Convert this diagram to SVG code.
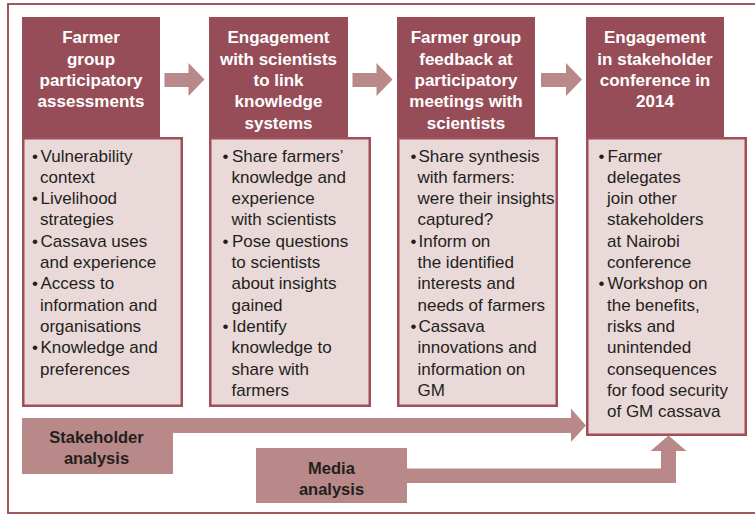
<svg xmlns="http://www.w3.org/2000/svg" width="755" height="515" viewBox="0 0 755 515">
<style>
.frame{fill:none;stroke:#a4545f;stroke-width:2}
.hdr{fill:#964d58}
.box{fill:#e9d9d8;stroke:#a04e59;stroke-width:2.5}
.arr{fill:#b98888}
.ht{font-family:"Liberation Sans",Arial,sans-serif;font-weight:bold;font-size:17px;fill:#ffffff;text-anchor:middle}
.bt{font-family:"Liberation Sans",Arial,sans-serif;font-size:17px;fill:#231f20}
.lt{font-family:"Liberation Sans",Arial,sans-serif;font-weight:bold;font-size:16.5px;fill:#231f20;text-anchor:middle}
</style>
<rect class="frame" x="8" y="4" width="800" height="509"/>

<g id="connectors">
<polygon class="arr" points="164.5,73 188.5,73 188.5,63 204.5,79.5 188.5,96 188.5,87 164.5,87"/>
<polygon class="arr" points="352.5,73 376.5,73 376.5,63 392.5,79.5 376.5,96 376.5,87 352.5,87"/>
<polygon class="arr" points="541,73 566,73 566,63 582,79.5 566,96 566,87 541,87"/>
</g>

<g id="node1">
<rect class="box" x="23.25" y="138.25" width="158.5" height="267.5"/>
<rect class="hdr" x="22" y="17" width="138" height="120"/>
<text class="ht"><tspan x="91" y="43.3">Farmer</tspan><tspan x="91" y="64.6">group</tspan><tspan x="91" y="85.9">participatory</tspan><tspan x="91" y="107.2">assessments</tspan></text>
<text class="bt">
<tspan x="32" y="161.5">•</tspan><tspan x="40.5">Vulnerability</tspan>
<tspan x="40" y="182.8">context</tspan>
<tspan x="32" y="204.1">•</tspan><tspan x="40.5">Livelihood</tspan>
<tspan x="40" y="225.4">strategies</tspan>
<tspan x="32" y="246.7">•</tspan><tspan x="40.5">Cassava uses</tspan>
<tspan x="40" y="268">and experience</tspan>
<tspan x="32" y="289.3">•</tspan><tspan x="40.5">Access to</tspan>
<tspan x="40" y="310.6">information and</tspan>
<tspan x="40" y="331.9">organisations</tspan>
<tspan x="32" y="353.2">•</tspan><tspan x="40.5">Knowledge and</tspan>
<tspan x="40" y="374.5">preferences</tspan>
</text>
</g>

<g id="node2">
<rect class="box" x="210.25" y="138.25" width="159.5" height="267.5"/>
<rect class="hdr" x="209" y="17" width="139" height="120"/>
<text class="ht"><tspan x="278.5" y="43.3">Engagement</tspan><tspan x="278.5" y="64.6">with scientists</tspan><tspan x="278.5" y="85.9">to link</tspan><tspan x="278.5" y="107.2">knowledge</tspan><tspan x="278.5" y="128.5">systems</tspan></text>
<text class="bt">
<tspan x="222.5" y="161.5">•</tspan><tspan x="232">Share farmers’</tspan>
<tspan x="231.5" y="182.8">knowledge and</tspan>
<tspan x="231.5" y="204.1">experience</tspan>
<tspan x="231.5" y="225.4">with scientists</tspan>
<tspan x="222.5" y="246.7">•</tspan><tspan x="232">Pose questions</tspan>
<tspan x="231.5" y="268">to scientists</tspan>
<tspan x="231.5" y="289.3">about insights</tspan>
<tspan x="231.5" y="310.6">gained</tspan>
<tspan x="222.5" y="331.9">•</tspan><tspan x="232">Identify</tspan>
<tspan x="231.5" y="353.2">knowledge to</tspan>
<tspan x="231.5" y="374.5">share with</tspan>
<tspan x="231.5" y="395.8">farmers</tspan>
</text>
</g>

<g id="node3">
<rect class="box" x="398.25" y="138.25" width="158.5" height="267.5"/>
<rect class="hdr" x="397" y="17" width="138" height="120"/>
<text class="ht"><tspan x="466" y="43.3">Farmer group</tspan><tspan x="466" y="64.6">feedback at</tspan><tspan x="466" y="85.9">participatory</tspan><tspan x="466" y="107.2">meetings with</tspan><tspan x="466" y="128.5">scientists</tspan></text>
<text class="bt">
<tspan x="410.5" y="161.5">•</tspan><tspan x="418.5">Share synthesis</tspan>
<tspan x="417.5" y="182.8">with farmers:</tspan>
<tspan x="417.5" y="204.1">were their insights</tspan>
<tspan x="417.5" y="225.4">captured?</tspan>
<tspan x="410.5" y="246.7">•</tspan><tspan x="418.5">Inform on</tspan>
<tspan x="417.5" y="268">the identified</tspan>
<tspan x="417.5" y="289.3">interests and</tspan>
<tspan x="417.5" y="310.6">needs of farmers</tspan>
<tspan x="410.5" y="331.9">•</tspan><tspan x="418.5">Cassava</tspan>
<tspan x="417.5" y="353.2">innovations and</tspan>
<tspan x="417.5" y="374.5">information on</tspan>
<tspan x="417.5" y="395.8">GM</tspan>
</text>
</g>

<g id="node4">
<rect class="box" x="587.25" y="138.25" width="158.5" height="296.5"/>
<rect class="hdr" x="586" y="17" width="138" height="120"/>
<text class="ht"><tspan x="655" y="43.3">Engagement</tspan><tspan x="655" y="64.6">in stakeholder</tspan><tspan x="655" y="85.9">conference in</tspan><tspan x="655" y="107.2">2014</tspan></text>
<text class="bt">
<tspan x="598.5" y="161.5">•</tspan><tspan x="607.5">Farmer</tspan>
<tspan x="607" y="182.8">delegates</tspan>
<tspan x="607" y="204.1">join other</tspan>
<tspan x="607" y="225.4">stakeholders</tspan>
<tspan x="607" y="246.7">at Nairobi</tspan>
<tspan x="607" y="268">conference</tspan>
<tspan x="598.5" y="289.3">•</tspan><tspan x="607.5">Workshop on</tspan>
<tspan x="607" y="310.6">the benefits,</tspan>
<tspan x="607" y="331.9">risks and</tspan>
<tspan x="607" y="353.2">unintended</tspan>
<tspan x="607" y="374.5">consequences</tspan>
<tspan x="607" y="395.8">for food security</tspan>
<tspan x="607" y="417.1">of GM cassava</tspan>
</text>
</g>

<g id="stakeholder">
<polygon class="arr" points="22,418 571,418 571,408.5 586,425.5 571,442 571,433 173,433 173,474 22,474"/>
<text class="lt"><tspan x="96.5" y="443">Stakeholder</tspan><tspan x="96.5" y="464">analysis</tspan></text>
</g>

<g id="media">
<polygon class="arr" points="256,448 407,448 407,468.5 661,468.5 661,451 650.5,451 668.5,435.5 686.5,451 676,451 676,483 407,483 407,503 256,503"/>
<text class="lt"><tspan x="331.5" y="474">Media</tspan><tspan x="331.5" y="495">analysis</tspan></text>
</g>
</svg>
